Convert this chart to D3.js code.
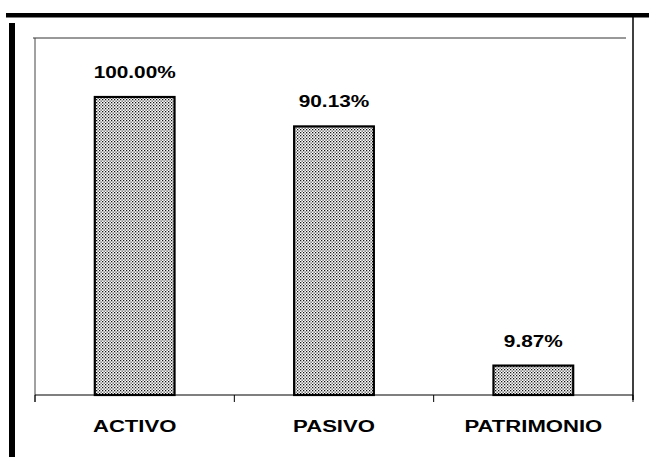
<!DOCTYPE html>
<html>
<head>
<meta charset="utf-8">
<script src="https://cdn.jsdelivr.net/npm/d3@7"></script>
<style>
  body { margin: 0; background: #fff; }
  svg { display: block; }
</style>
</head>
<body>
<svg id="chart"></svg>
<script>
var width = 649,
  height = 469;

// chart data
var categories = ["ACTIVO", "PASIVO", "PATRIMONIO"];
var values = [100.0, 90.13, 9.87];
var valueLabels = ["100.00%", "90.13%", "9.87%"];

var plotLeft = 35,
  plotRight = 633,
  plotTop = 38,
  base = 395;

var svg = d3.select("#chart").attr("width", width).attr("height", height);

// dotted fill like the scanned halftone
var defs = svg.append("defs");
var pat = defs
  .append("pattern")
  .attr("id", "dots")
  .attr("width", 3)
  .attr("height", 3)
  .attr("patternUnits", "userSpaceOnUse");
pat.append("rect").attr("width", 3).attr("height", 3).attr("fill", "#fff");
pat.append("rect").attr("x", 0).attr("y", 0).attr("width", 1.3).attr("height", 1.3).attr("fill", "#111");
pat.append("rect").attr("x", 1.5).attr("y", 1.5).attr("width", 1.3).attr("height", 1.3).attr("fill", "#444");

// outer frame pieces
svg.append("rect").attr("x", 6).attr("y", 13).attr("width", 643).attr("height", 4.5).attr("fill", "#000");
svg.append("rect").attr("x", 9).attr("y", 23).attr("width", 6).attr("height", 434).attr("fill", "#000");
svg.append("line")
  .attr("x1", plotRight).attr("x2", plotRight)
  .attr("y1", 13).attr("y2", 400)
  .attr("stroke", "#000").attr("stroke-width", 1.5);

var x = d3.scaleBand().domain(categories).range([plotLeft, plotRight]).padding(0);
var y = d3.scaleLinear().domain([0, 100]).range([base, 97]);

// plot border (top and left)
svg.append("line")
  .attr("x1", plotLeft - 2).attr("x2", 626)
  .attr("y1", plotTop).attr("y2", plotTop)
  .attr("stroke", "#333").attr("stroke-width", 1);
svg.append("line")
  .attr("x1", plotLeft).attr("x2", plotLeft)
  .attr("y1", plotTop).attr("y2", base + 7)
  .attr("stroke", "#444").attr("stroke-width", 1);

// baseline and ticks at band edges
svg.append("line")
  .attr("x1", plotLeft).attr("x2", plotRight)
  .attr("y1", base).attr("y2", base)
  .attr("stroke", "#000").attr("stroke-width", 1.2);
var edges = categories.map(function (c) { return x(c); }).concat([plotRight]);
svg.selectAll(".tick")
  .data(edges)
  .enter()
  .append("line")
  .attr("x1", function (d) { return d; })
  .attr("x2", function (d) { return d; })
  .attr("y1", base)
  .attr("y2", base + 7)
  .attr("stroke", "#000");

var bw = x.bandwidth() * 0.4;

svg.selectAll(".bar")
  .data(values)
  .enter()
  .append("rect")
  .attr("class", "bar")
  .attr("x", function (d, i) { return x(categories[i]) + (x.bandwidth() - bw) / 2; })
  .attr("y", function (d) { return y(d); })
  .attr("width", bw)
  .attr("height", function (d) { return base - y(d); })
  .attr("fill", "url(#dots)")
  .attr("stroke", "#000")
  .attr("stroke-width", 2.2);

// value labels above bars
svg.selectAll(".val")
  .data(values)
  .enter()
  .append("text")
  .attr("class", "val")
  .attr("transform", function (d, i) {
    var cx = x(categories[i]) + x.bandwidth() / 2;
    return "translate(" + cx + "," + (y(d) - 19) + ") scale(1.3,1)";
  })
  .attr("text-anchor", "middle")
  .style("font", "bold 16px 'Liberation Sans', Arial, sans-serif")
  .text(function (d, i) { return valueLabels[i]; });

// category labels
svg.selectAll(".cat")
  .data(categories)
  .enter()
  .append("text")
  .attr("class", "cat")
  .attr("transform", function (d) {
    return "translate(" + (x(d) + x.bandwidth() / 2) + "," + 432 + ") scale(1.3,1)";
  })
  .attr("text-anchor", "middle")
  .style("font", "bold 17px 'Liberation Sans', Arial, sans-serif")
  .text(function (d) { return d; });
</script>
</body>
</html>
